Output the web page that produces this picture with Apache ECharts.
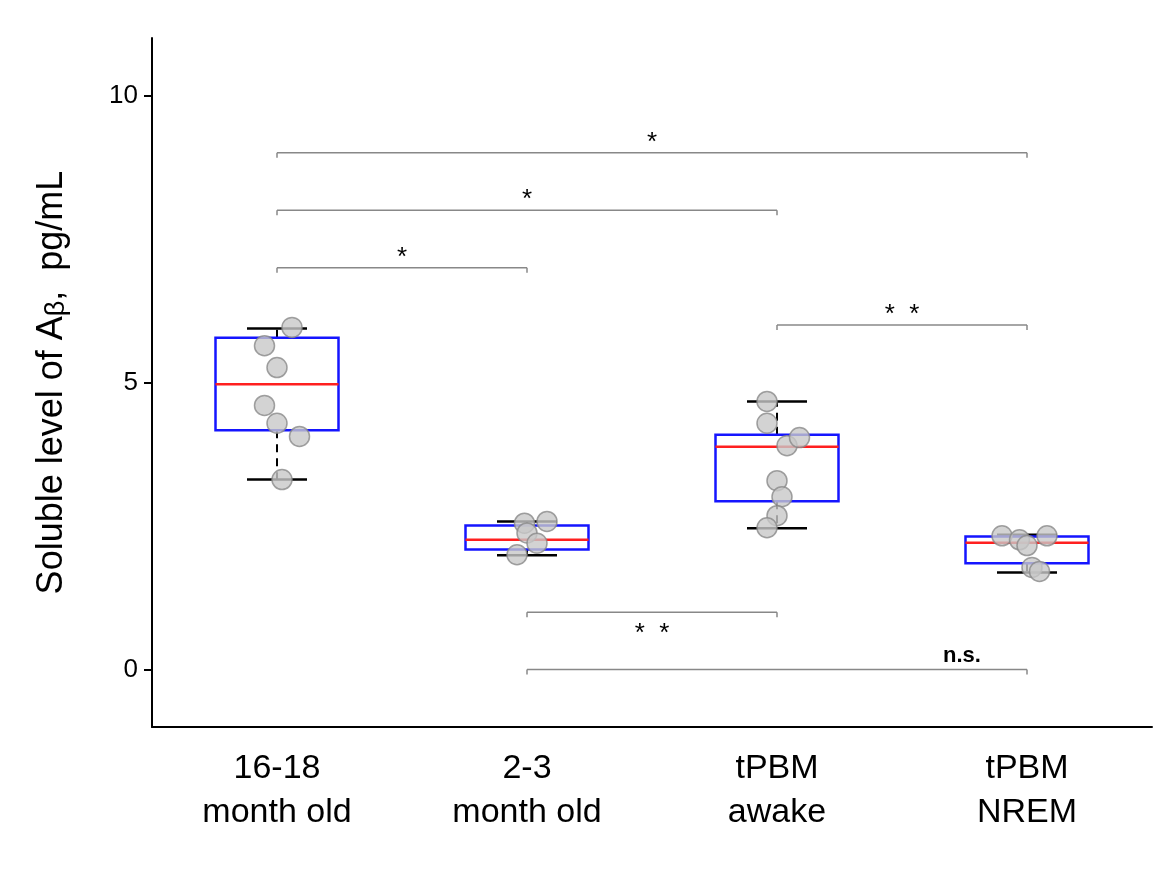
<!DOCTYPE html>
<html lang="en">
<head>
<meta charset="UTF-8">
<title>Soluble Aβ</title>
<script src="https://cdn.jsdelivr.net/npm/echarts@6/dist/echarts.min.js"></script>
</head>
<body style="margin:0;background:#fff">
<div id="chart" style="width:1162px;height:878px"></div>
<script>
var categories = ['16-18\nmonth old', '2-3\nmonth old', 'tPBM\nawake', 'tPBM\nNREM'];
// [whiskerLow, q1, median, q3, whiskerHigh]
var boxStats = [
  [3.31, 4.17, 4.97, 5.78, 5.94],
  [1.99, 2.09, 2.26, 2.51, 2.58],
  [2.46, 2.93, 3.88, 4.09, 4.67],
  [1.69, 1.85, 2.21, 2.32, 2.35]
];
// [x position incl. jitter, value]
var points = [
  [1.06, 5.96], [0.95, 5.64], [1.0, 5.26], [0.95, 4.6], [1.0, 4.29], [1.09, 4.06], [1.02, 3.31],
  [2.08, 2.58], [1.99, 2.55], [2.0, 2.38], [2.04, 2.2], [1.96, 2.0],
  [2.96, 4.67], [2.96, 4.29], [3.04, 3.9], [3.09, 4.04], [3.0, 3.29], [3.02, 3.01], [3.0, 2.68], [2.96, 2.47],
  [3.9, 2.33], [3.97, 2.26], [4.08, 2.33], [4.0, 2.16], [4.02, 1.78], [4.05, 1.71]
];
// [from, to, level, label, label below?]
var brackets = [
  [1, 4, 9, '*', false],
  [1, 3, 8, '*', false],
  [1, 2, 7, '*', false],
  [3, 4, 6, '*  *', false],
  [2, 3, 1, '*  *', true],
  [2, 4, 0, 'n.s.', false]
];

var chart = echarts.init(document.getElementById('chart'));
chart.setOption({
  animation: false,
  grid: {left: 152, right: 10, top: 38, bottom: 151},
  xAxis: [{
    type: 'category', data: categories,
    axisLine: {onZero: false, lineStyle: {color: '#000', width: 2}},
    axisTick: {alignWithLabel: true, length: 8, lineStyle: {color: '#000', width: 2}},
    axisLabel: {color: '#000', fontSize: 34, lineHeight: 44, margin: 20, fontFamily: 'Liberation Sans'}
  }, {
    type: 'value', min: 0.5, max: 4.5, show: false
  }],
  yAxis: {
    type: 'value', min: -1, max: 11,
    name: '{a|Soluble level of A}{b|β}{a|,  pg/mL}', nameLocation: 'middle', nameGap: 82,
    nameTextStyle: {rich: {
      a: {fontSize: 36, color: '#000', fontFamily: 'Liberation Sans'},
      b: {fontSize: 27, color: '#000', fontFamily: 'Liberation Sans', padding: [0, 0, -10, 0]}
    }},
    axisLine: {show: true, onZero: false, lineStyle: {color: '#000', width: 2}},
    axisTick: {show: true, length: 8, customValues: [0, 5, 10], lineStyle: {color: '#000', width: 2}},
    axisLabel: {customValues: [0, 5, 10], color: '#000', fontSize: 26, margin: 14, fontFamily: 'Liberation Sans'},
    splitLine: {show: false}
  },
  series: [{
    type: 'custom', xAxisIndex: 1,
    data: boxStats.map(function (s, i) { return [i + 1].concat(s); }),
    renderItem: function (params, api) {
      var x = api.value(0);
      var p = function (dx, y) { return api.coord([x + dx, y]); };
      var hw = 0.246, cw = 0.12;
      var lo = api.value(1), q1 = api.value(2), md = api.value(3), q3 = api.value(4), hi = api.value(5);
      var a = p(-hw, q3), b = p(hw, q1);
      var dash = {stroke: '#000', lineWidth: 2, lineDash: [8, 6]};
      var solid = {stroke: '#000', lineWidth: 2.5};
      return {type: 'group', children: [
        {type: 'line', shape: {x1: p(0, q1)[0], y1: p(0, q1)[1], x2: p(0, lo)[0], y2: p(0, lo)[1]}, style: dash},
        {type: 'line', shape: {x1: p(0, q3)[0], y1: p(0, q3)[1], x2: p(0, hi)[0], y2: p(0, hi)[1]}, style: dash},
        {type: 'line', shape: {x1: p(-cw, lo)[0], y1: p(0, lo)[1], x2: p(cw, lo)[0], y2: p(0, lo)[1]}, style: solid},
        {type: 'line', shape: {x1: p(-cw, hi)[0], y1: p(0, hi)[1], x2: p(cw, hi)[0], y2: p(0, hi)[1]}, style: solid},
        {type: 'rect', shape: {x: a[0], y: a[1], width: b[0] - a[0], height: b[1] - a[1]},
          style: {fill: 'none', stroke: '#1515ff', lineWidth: 2.5}},
        {type: 'line', shape: {x1: a[0], y1: p(0, md)[1], x2: b[0], y2: p(0, md)[1]},
          style: {stroke: '#ff2020', lineWidth: 2.5}}
      ]};
    }
  }, {
    type: 'scatter', xAxisIndex: 1, data: points, symbolSize: 20, z: 5,
    itemStyle: {color: '#c8c8c8', borderColor: '#8a8a8a', borderWidth: 1.5}
  }, {
    type: 'custom', xAxisIndex: 1, data: brackets, z: 4,
    renderItem: function (params, api) {
      var br = brackets[params.dataIndex];
      var s = api.coord([br[0], br[2]]), e = api.coord([br[1], br[2]]);
      var st = {stroke: '#888', lineWidth: 1.5};
      var ns = br[3] === 'n.s.';
      var tx = ns ? e[0] - 65 : (s[0] + e[0]) / 2;
      return {type: 'group', children: [
        {type: 'line', shape: {x1: s[0], y1: s[1], x2: e[0], y2: e[1]}, style: st},
        {type: 'line', shape: {x1: s[0], y1: s[1], x2: s[0], y2: s[1] + 5}, style: st},
        {type: 'line', shape: {x1: e[0], y1: e[1], x2: e[0], y2: e[1] + 5}, style: st},
        {type: 'text', x: tx, y: br[4] ? s[1] + 22 : s[1] - (ns ? 14 : 10),
          style: {text: br[3], align: 'center', verticalAlign: 'middle', fill: '#000',
            font: (ns ? 'bold 22px' : '26px') + ' "Liberation Sans"'}}
      ]};
    }
  }]
});
</script>
</body>
</html>
